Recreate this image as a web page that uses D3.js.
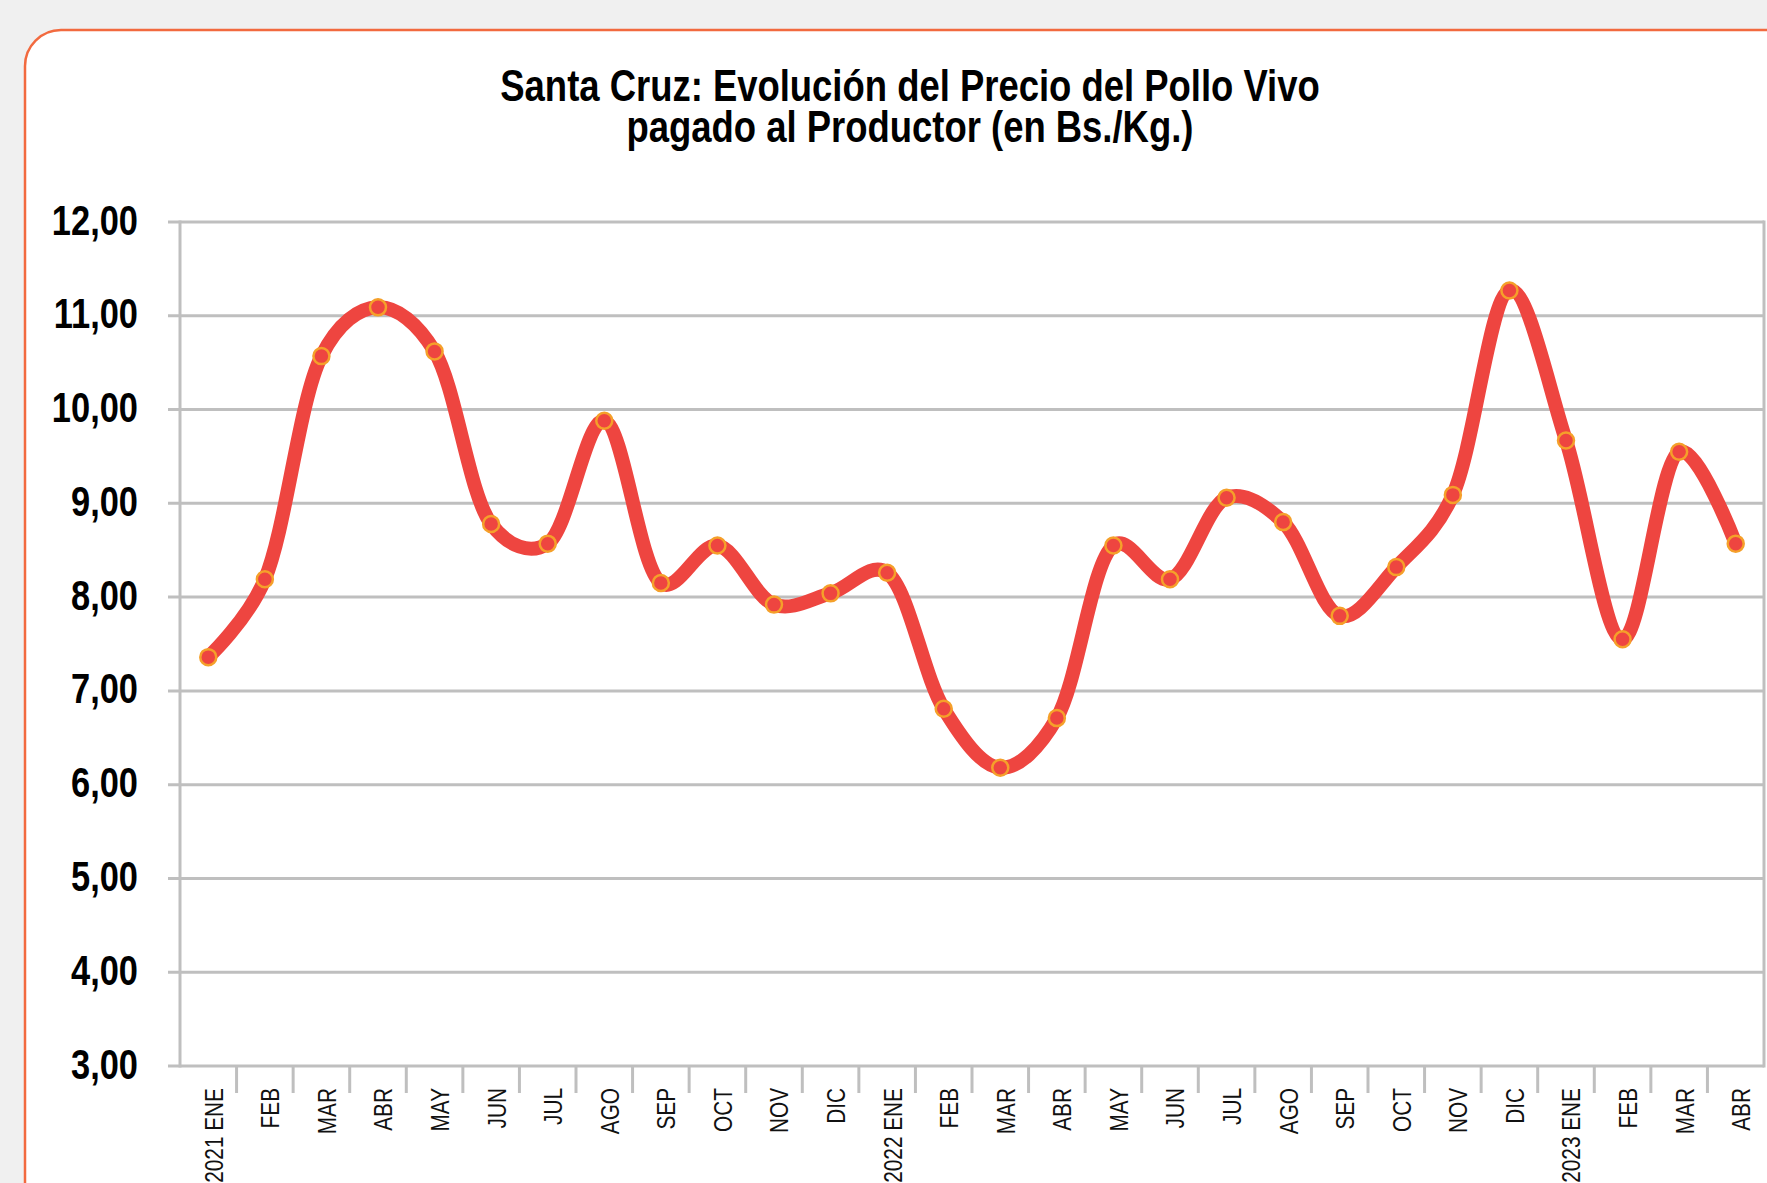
<!DOCTYPE html>
<html>
<head>
<meta charset="utf-8">
<script src="https://cdn.jsdelivr.net/npm/d3@7"></script>
<style>
  body { margin: 0; background: #f0f0f0; }
  svg { display: block; }
</style>
</head>
<body>
<div id="chart"></div>
<script>
var months = ['2021 ENE', 'FEB', 'MAR', 'ABR', 'MAY', 'JUN', 'JUL', 'AGO', 'SEP', 'OCT', 'NOV', 'DIC',
  '2022 ENE', 'FEB', 'MAR', 'ABR', 'MAY', 'JUN', 'JUL', 'AGO', 'SEP', 'OCT', 'NOV', 'DIC',
  '2023 ENE', 'FEB', 'MAR', 'ABR'];
var prices = [7.36, 8.19, 10.57, 11.09, 10.62, 8.78, 8.57, 9.88, 8.15, 8.55, 7.92, 8.04,
  8.26, 6.81, 6.18, 6.71, 8.55, 8.19, 9.06, 8.80, 7.80, 8.32, 9.09, 11.27,
  9.67, 7.55, 9.55, 8.57];
var yTicks = [3, 4, 5, 6, 7, 8, 9, 10, 11, 12];
var title = ['Santa Cruz: Evolución del Precio del Pollo Vivo', 'pagado al Productor (en Bs./Kg.)'];

var width = 1767;
var height = 1183;
var plot = { left: 180, right: 1764, top: 222, bottom: 1066 };
var grey = '#bfbfbf';
var sans = '"Liberation Sans", Arial, sans-serif';

var svg = d3.select('#chart').append('svg').attr('width', width).attr('height', height);

// white card, orange rounded border (runs off the right/bottom edge)
svg.append('rect')
  .attr('x', 25).attr('y', 30)
  .attr('width', width + 60).attr('height', height + 60)
  .attr('rx', 36).attr('ry', 36)
  .attr('fill', '#fff')
  .attr('stroke', '#f26a3f')
  .attr('stroke-width', 2.5);

// title, narrow bold look
svg.append('g').selectAll('text')
  .data(title)
  .join('text')
  .attr('transform', function(d, i) { return 'translate(910,' + (101 + i * 41) + ') scale(0.81,1)'; })
  .attr('text-anchor', 'middle')
  .attr('font-family', sans)
  .attr('font-weight', 'bold')
  .attr('font-size', 45)
  .attr('fill', '#000')
  .text(function(d) { return d; });

var x = d3.scaleBand().domain(d3.range(months.length)).range([plot.left, plot.right]);
var y = d3.scaleLinear().domain([3, 12]).range([plot.bottom, plot.top]);

// gridlines with small left ticks
svg.append('g').selectAll('line')
  .data(yTicks)
  .join('line')
  .attr('x1', plot.left - 12).attr('x2', plot.right)
  .attr('y1', function(d) { return y(d); })
  .attr('y2', function(d) { return y(d); })
  .attr('stroke', grey).attr('stroke-width', 3);

svg.append('g').selectAll('line')
  .data([plot.left, plot.right])
  .join('line')
  .attr('x1', function(d) { return d; })
  .attr('x2', function(d) { return d; })
  .attr('y1', plot.top - 1.5).attr('y2', plot.bottom + 1.5)
  .attr('stroke', grey).attr('stroke-width', 3);

// y labels
svg.append('g').selectAll('text')
  .data(yTicks)
  .join('text')
  .attr('transform', function(d) { return 'translate(138,' + y(d) + ') scale(0.82,1)'; })
  .attr('dy', '0.3em')
  .attr('text-anchor', 'end')
  .attr('font-family', sans)
  .attr('font-weight', 'bold')
  .attr('font-size', 42)
  .attr('fill', '#000')
  .text(function(d) { return d3.format('.2f')(d).replace('.', ','); });

// x ticks between categories
svg.append('g').selectAll('line')
  .data(d3.range(1, months.length))
  .join('line')
  .attr('x1', function(d) { return x(d); })
  .attr('x2', function(d) { return x(d); })
  .attr('y1', plot.bottom).attr('y2', plot.bottom + 27)
  .attr('stroke', grey).attr('stroke-width', 3);

// x labels, rotated
svg.append('g').selectAll('text')
  .data(months)
  .join('text')
  .attr('transform', function(d, i) {
    return 'translate(' + (x(i) + x.bandwidth() / 2 + 5) + ',' + (plot.bottom + 22) + ') rotate(-90) scale(0.8,1)';
  })
  .attr('dy', '0.36em')
  .attr('text-anchor', 'end')
  .attr('font-family', sans)
  .attr('font-size', 26)
  .attr('fill', '#111')
  .text(function(d) { return d; });

// smoothed price line
var line = d3.line()
  .x(function(d, i) { return x(i) + x.bandwidth() / 2; })
  .y(function(d) { return y(d); })
  .curve(d3.curveCatmullRom.alpha(0.25));

svg.append('path')
  .datum(prices)
  .attr('d', line)
  .attr('fill', 'none')
  .attr('stroke', '#ee4540')
  .attr('stroke-width', 14)
  .attr('stroke-linejoin', 'miter');

svg.append('g').selectAll('circle')
  .data(prices)
  .join('circle')
  .attr('cx', function(d, i) { return x(i) + x.bandwidth() / 2; })
  .attr('cy', function(d) { return y(d); })
  .attr('r', 8)
  .attr('fill', '#ee4540')
  .attr('stroke', '#f5a02a')
  .attr('stroke-width', 2.5);
</script>
</body>
</html>
